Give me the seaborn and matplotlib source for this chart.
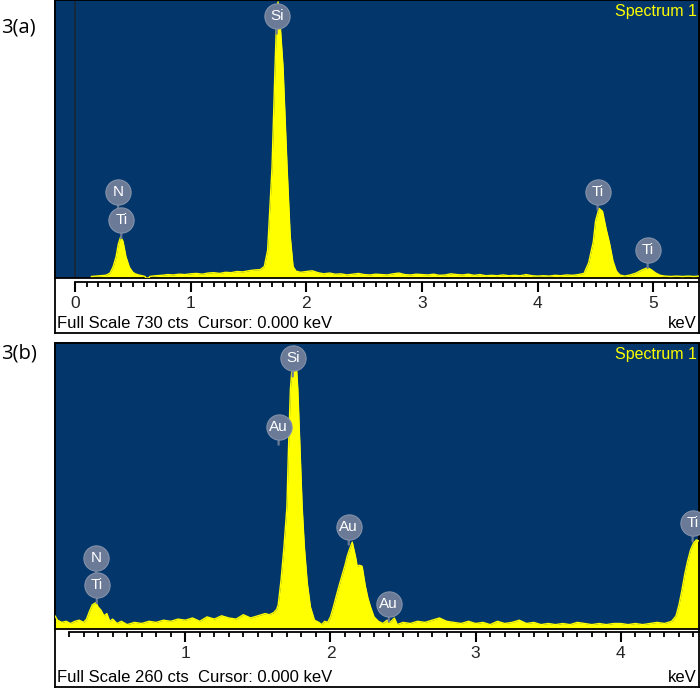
import numpy as np
import pandas as pd
import matplotlib
matplotlib.use("Agg")
import matplotlib.pyplot as plt
from matplotlib.ticker import MultipleLocator, FixedLocator, FormatStrFormatter
import seaborn as sns

# ---------------- data ----------------
energy_a = [0.14, 0.18, 0.22, 0.26, 0.28, 0.303, 0.33, 0.355, 0.375, 0.395, 0.415, 0.44, 0.47, 0.50,
            0.52, 0.55, 0.58, 0.605, 0.612, 0.64, 0.645, 0.70, 0.75, 0.80, 0.85, 0.90, 0.95, 1.00,
            1.05, 1.10, 1.15, 1.20, 1.25, 1.30, 1.35, 1.40, 1.45, 1.50, 1.55, 1.60, 1.636, 1.665,
            1.703, 1.729, 1.745, 1.755, 1.77, 1.798, 1.833, 1.86, 1.885, 1.91, 1.95, 2.00, 2.05,
            2.10, 2.15, 2.20, 2.25, 2.30, 2.35, 2.40, 2.45, 2.50, 2.55, 2.60, 2.65, 2.70, 2.75,
            2.80, 2.85, 2.90, 2.95, 3.00, 3.05, 3.10, 3.15, 3.20, 3.25, 3.30, 3.35, 3.40, 3.45,
            3.50, 3.55, 3.60, 3.65, 3.70, 3.75, 3.80, 3.85, 3.90, 3.95, 4.00, 4.05, 4.10, 4.15,
            4.20, 4.25, 4.30, 4.35, 4.40, 4.44, 4.48, 4.50, 4.53, 4.56, 4.59, 4.62, 4.65, 4.68,
            4.71, 4.75, 4.80, 4.85, 4.90, 4.95, 4.98, 5.02, 5.06, 5.10, 5.15, 5.20, 5.25, 5.30,
            5.35, 5.39]
counts_a = [4, 5, 6, 7, 9, 13, 30, 56, 90, 108, 96, 56, 28, 15,
            11, 8, 6, 4, 0, 0, 4, 6, 7, 9, 8, 10, 9, 11,
            12, 10, 13, 14, 12, 15, 14, 17, 16, 19, 21, 22, 30, 73,
            291, 555, 700, 725, 680, 555, 291, 110, 30, 18, 15, 17, 19,
            14, 11, 13, 10, 11, 8, 10, 12, 9, 8, 10, 9, 8, 11,
            13, 9, 8, 10, 9, 8, 10, 7, 8, 11, 9, 8, 10, 7,
            9, 6, 7, 6, 8, 6, 7, 6, 9, 6, 5, 6, 5, 7,
            6, 8, 7, 9, 12, 40, 95, 150, 183, 175, 130, 92, 45, 18,
            8, 5, 8, 13, 21, 27, 22, 13, 7, 5, 4, 5, 4, 5,
            4, 5]

energy_b = [0.103, 0.12, 0.15, 0.18, 0.21, 0.24, 0.27, 0.30, 0.32, 0.34, 0.36, 0.385, 0.40, 0.42,
            0.44, 0.46, 0.48, 0.50, 0.53, 0.56, 0.60, 0.65, 0.70, 0.75, 0.80, 0.85, 0.90, 0.95,
            1.00, 1.05, 1.10, 1.15, 1.20, 1.25, 1.30, 1.35, 1.40, 1.45, 1.50, 1.55, 1.58, 1.61,
            1.63, 1.64, 1.66, 1.68, 1.70, 1.71, 1.724, 1.74, 1.752, 1.765, 1.775, 1.79, 1.805,
            1.82, 1.84, 1.862, 1.89, 1.92, 1.94, 1.96, 1.98, 2.00, 2.02, 2.046, 2.065, 2.085,
            2.10, 2.115, 2.13, 2.15, 2.172, 2.184, 2.20, 2.218, 2.24, 2.258, 2.276, 2.30, 2.33,
            2.36, 2.39, 2.41, 2.44, 2.46, 2.50, 2.55, 2.60, 2.65, 2.70, 2.75, 2.80, 2.85, 2.90,
            2.95, 3.00, 3.05, 3.10, 3.15, 3.20, 3.25, 3.30, 3.35, 3.40, 3.45, 3.50, 3.55, 3.60,
            3.65, 3.70, 3.75, 3.80, 3.85, 3.90, 3.95, 4.00, 4.05, 4.10, 4.15, 4.20, 4.25, 4.30,
            4.35, 4.38, 4.40, 4.42, 4.44, 4.46, 4.48, 4.50, 4.52, 4.538]
counts_b = [12, 8, 6, 7, 5, 7, 8, 6, 9, 16, 22, 24, 20, 17,
            12, 14, 7, 9, 5, 7, 4, 6, 5, 7, 6, 8, 7, 9,
            8, 10, 7, 11, 9, 12, 10, 9, 13, 10, 12, 14, 13, 15,
            18, 22, 45, 75, 111, 160, 218, 245, 257, 240, 218, 165, 111,
            75, 42, 20, 8, 6, 4, 7, 6, 11, 20, 33, 42, 51,
            58, 66, 72, 79, 66, 57, 58, 57, 39, 28, 20, 11, 7,
            5, 8, 6, 10, 4, 6, 5, 7, 6, 8, 10, 7, 6, 5,
            7, 5, 6, 4, 7, 5, 6, 8, 5, 6, 4, 5, 4, 5,
            4, 6, 5, 4, 5, 4, 5, 5, 4, 5, 4, 5, 6, 5,
            7, 12, 22, 35, 50, 62, 72, 78, 81, 80]

labels_a = ["N", "Ti", "Si", "Ti", "Ti"]
label_energy_a = [0.372, 0.40, 1.743, 4.517, 4.95]
label_height_a = [225, 152, 689, 227, 74]

labels_b = ["N", "Ti", "Si", "Au", "Au", "Au", "Ti"]
label_energy_b = [0.384, 0.391, 1.74, 1.643, 2.126, 2.402, 4.494]
label_height_b = [65, 40, 246, 184, 93, 23, 96]

full_scale = [730, 260]
panel_names = ["3(a)", "3(b)"]
xlims = [(-0.173, 5.394), (0.103, 4.538)]
tick_start = [0.0, 0.2]

# ---------------- style ----------------
sns.set_theme(style="white")
plt.rcParams["font.family"] = ["Liberation Sans", "DejaVu Sans"]

W, H = 700, 688
BG = "#03366A"
YEL = "#FFFF00"
LBL = "#6B7A97"

fig = plt.figure(figsize=(W / 100, H / 100), dpi=100)
fig.patch.set_facecolor("white")


def box(x0, y0, x1, y1):
    return [x0 / W, 1 - y1 / H, (x1 - x0) / W, (y1 - y0) / H]


layout = [dict(top=0, pbot=278, tline=282, bot=333, name_y=27),
          dict(top=343, pbot=629, tline=632, bot=687, name_y=353)]

datasets = [
    (energy_a, counts_a, labels_a, label_energy_a, label_height_a),
    (energy_b, counts_b, labels_b, label_energy_b, label_height_b),
]

for i, (E, C, labs, lE, lH) in enumerate(datasets):
    L = layout[i]
    # frame
    fax = fig.add_axes(box(55, L["top"], 699, L["bot"]))
    fax.set_facecolor("white")
    fax.set_xticks([]); fax.set_yticks([])
    for s in fax.spines.values():
        s.set_visible(True); s.set_color("black"); s.set_linewidth(1.3)

    # plot area
    ax = fig.add_axes(box(55, L["top"], 699, L["pbot"]))
    ax.set_facecolor(BG)
    df = pd.DataFrame({"keV": E, "cts": C})
    ax.fill_between(df["keV"], 0, df["cts"], color=YEL, linewidth=0, zorder=2)
    sns.lineplot(data=df, x="keV", y="cts", ax=ax, color=YEL, linewidth=1.0, zorder=3)
    ax.set_xlim(*xlims[i])
    ax.set_ylim(0, full_scale[i])
    ax.set_xticks([]); ax.set_yticks([])
    ax.set_xlabel(""); ax.set_ylabel("")
    for s in ax.spines.values():
        s.set_visible(True); s.set_color("black"); s.set_linewidth(1.3)
    if xlims[i][0] < 0:
        ax.axvline(0, color="#1B2633", lw=1.2, zorder=1)

    # element labels
    for t, e, h in zip(labs, lE, lH):
        ax.annotate("", xy=(e, h), xytext=(0, -13), textcoords="offset points",
                    arrowprops=dict(arrowstyle="-", color=LBL, lw=1.6, shrinkA=0, shrinkB=0),
                    zorder=4, annotation_clip=False)
        ax.scatter([e], [h], s=330, color=LBL, edgecolor="#8592AA", linewidth=0.8,
                   zorder=5, clip_on=False)
        ax.text(e, h, t, color="white", fontsize=11, ha="center", va="center",
                zorder=6, clip_on=False)

    ax.text(0.996, 0.985, "Spectrum 1", transform=ax.transAxes, color=YEL,
            fontsize=11.5, ha="right", va="top")

    # tick strip
    tax = fig.add_axes(box(55, L["pbot"] + 1, 699, L["tline"]))
    tax.patch.set_alpha(0)
    tax.set_xlim(*xlims[i])
    tax.set_yticks([])
    for k in ["top", "left", "right"]:
        tax.spines[k].set_visible(False)
    tax.spines["bottom"].set_visible(True)
    tax.spines["bottom"].set_color("black")
    tax.spines["bottom"].set_linewidth(1.3)
    tax.spines["bottom"].set_bounds(tick_start[i], xlims[i][1])
    majors = np.arange(np.ceil(tick_start[i]), xlims[i][1] + 1e-9, 1.0)
    minors = np.arange(round(tick_start[i] * 10), int(xlims[i][1] * 10) + 1) / 10.0
    tax.xaxis.set_major_locator(FixedLocator(majors))
    tax.xaxis.set_minor_locator(FixedLocator(minors))
    tax.xaxis.set_major_formatter(FormatStrFormatter("%d"))
    tax.tick_params(axis="x", which="major", direction="out", length=7, width=1.5,
                    color="black", labelsize=12.5, pad=3, bottom=True)
    tax.tick_params(axis="x", which="minor", direction="out", length=3.5, width=1.3,
                    color="black", bottom=True)

    yb = 1 - (L["bot"] - 9) / H
    fig.text(57 / W, yb, "Full Scale %d cts  Cursor: 0.000 keV" % full_scale[i],
             fontsize=12, ha="left", va="center", color="black")
    fig.text(697 / W, yb, "keV", fontsize=12, ha="right", va="center", color="black")

    fig.text(1 / W, 1 - L["name_y"] / H, panel_names[i], fontsize=14.5,
             ha="left", va="center", color="black",
             family=["Open Sans", "DejaVu Sans"])

fig.savefig("out.png", dpi=100)
